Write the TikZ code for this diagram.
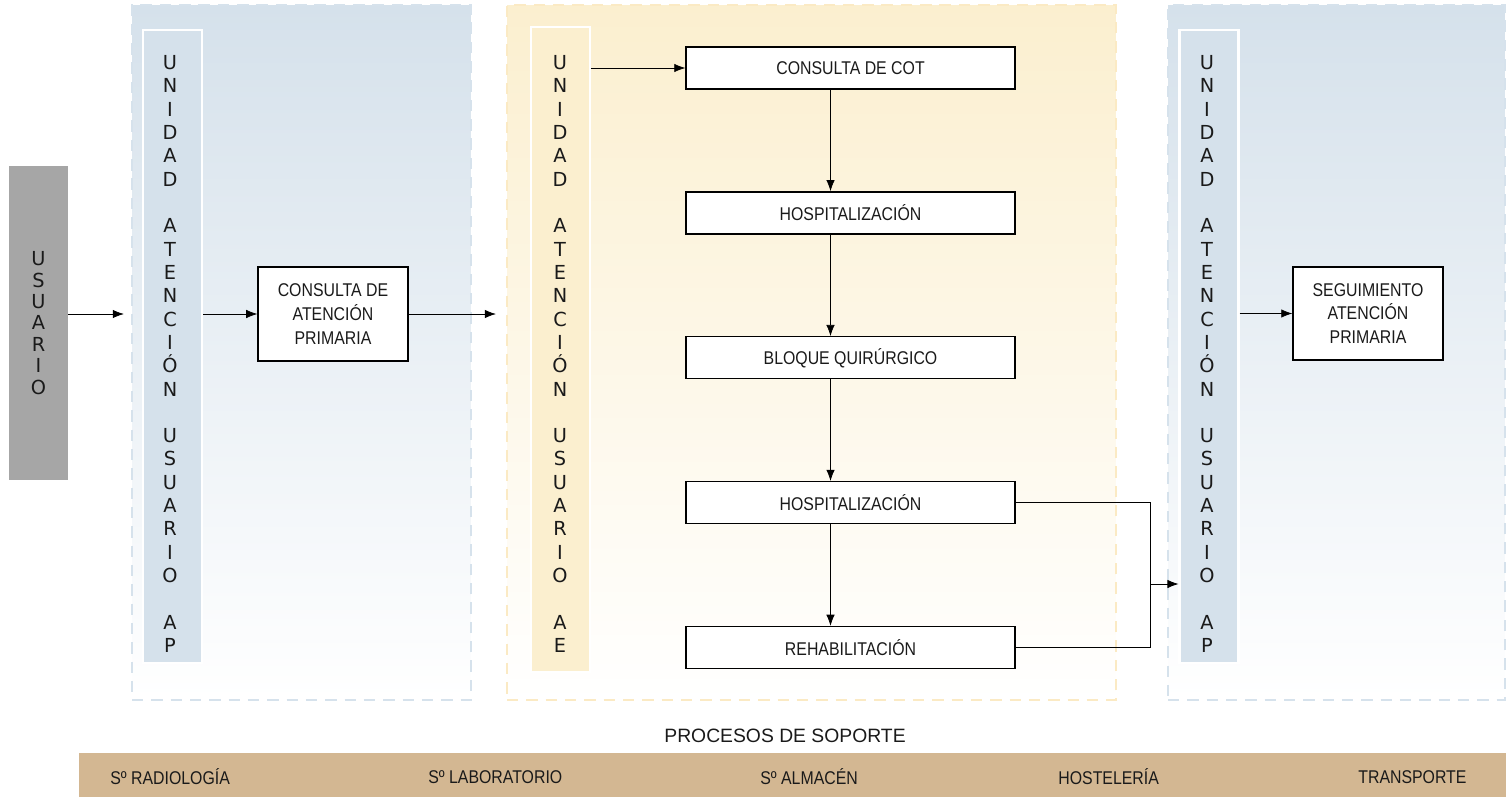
\documentclass[tikz,border=0pt]{standalone}
\usepackage{fontspec}
\usepackage{tikz}
\usetikzlibrary{positioning,arrows.meta}

\newfontfamily\narrowfont[FakeStretch=0.86]{Liberation Sans}
\newfontfamily\plainfont{Liberation Sans}
\newfontfamily\stripfont{DejaVu Sans}

\definecolor{apblue}{HTML}{D5E1EB}
\definecolor{apborder}{HTML}{D6E2EC}
\definecolor{aeyellow}{HTML}{FBEFCF}
\definecolor{aeborder}{HTML}{FBEAC4}
\definecolor{usergray}{HTML}{A6A6A6}
\definecolor{barbrown}{HTML}{D3B792}
\definecolor{inkdark}{HTML}{1A1A1A}

\begin{document}
\begin{tikzpicture}[
    x=0.02cm, y=-0.02cm,
    >={Latex[length=6.3pt,width=4.8pt]},
    every node/.style={text=inkdark},
    panel/.style={minimum width=#1, minimum height=13.9cm, dash pattern=on 6.5pt off 4.5pt, line width=1.3pt},
    panelap/.style={panel=#1, draw=apborder, top color=apblue, bottom color=white},
    panelae/.style={panel=#1, draw=aeborder, top color=aeyellow, bottom color=white},
    stripbox/.style={draw=white, line width=1.2pt, minimum width=1.18cm, minimum height=#1, inner sep=0pt},
    vtext/.style={align=center, font=\stripfont\fontsize{11}{13.27}\selectfont},
    box/.style={draw, thick, fill=white, align=center, inner sep=2pt, font=\narrowfont\fontsize{10.5}{13.5}\selectfont},
    flow/.style={box, minimum width=6.58cm, minimum height=0.84cm},
    bartext/.style={anchor=west, inner sep=0pt, font=\narrowfont\fontsize{10.5}{12}\selectfont}
]
\useasboundingbox (0,0) rectangle (1506,797);

% Panels
\node[panelap=6.78cm] (apL) at (301.5,352.5) {};
\node[panelae=12.18cm] (apM) at (811.5,352.5) {};
\node[panelap=6.74cm] (apR) at (1336.5,352.5) {};

% Strips
\node[stripbox=12.66cm, fill=apblue] (stripL) at (172.5,346.5) {};
\node[stripbox=12.9cm, fill=aeyellow] (stripM) at (560.5,349.5) {};
\node[stripbox=12.66cm, fill=apblue] (stripR) at (1209,346.5) {};

\node[vtext] (txtL) at (170,354) {U\\N\\I\\D\\A\\D\\[13.27pt]A\\T\\E\\N\\C\\I\\Ó\\N\\[13.27pt]U\\S\\U\\A\\R\\I\\O\\[13.27pt]A\\P};
\node[vtext] (txtM) at (560,354) {U\\N\\I\\D\\A\\D\\[13.27pt]A\\T\\E\\N\\C\\I\\Ó\\N\\[13.27pt]U\\S\\U\\A\\R\\I\\O\\[13.27pt]A\\E};
\node[vtext] (txtR) at (1207,354) {U\\N\\I\\D\\A\\D\\[13.27pt]A\\T\\E\\N\\C\\I\\Ó\\N\\[13.27pt]U\\S\\U\\A\\R\\I\\O\\[13.27pt]A\\P};

% Usuario
\node[fill=usergray, minimum width=1.18cm, minimum height=6.28cm, inner sep=0pt, align=center,
    font=\stripfont\fontsize{11}{12.2}\selectfont] (usuario) at (38.5,323) {U\\S\\U\\A\\R\\I\\O};

% Boxes
\node[box, minimum width=3cm, minimum height=1.88cm] (cpa) at (333,314) {CONSULTA DE\\ATENCIÓN\\PRIMARIA};
\node[box, minimum width=3cm, minimum height=1.86cm] (seg) at (1368,313.5) {SEGUIMIENTO\\ATENCIÓN\\PRIMARIA};

\node[flow] (cot) at (850.5,68) {CONSULTA DE COT};
\node[flow, below=2.03cm of cot] (hosp1) {HOSPITALIZACIÓN};
\node[flow, below=2.03cm of hosp1] (bloque) {BLOQUE QUIRÚRGICO};
\node[flow, below=2.03cm of bloque] (hosp2) {HOSPITALIZACIÓN};
\node[flow, below=2.03cm of hosp2] (rehab) {REHABILITACIÓN};

% Arrows
\draw[->, shorten >=0.14cm] (usuario.east |- cpa) -- (apL.west |- cpa);
\draw[->] (stripL.east |- cpa) -- (cpa.west);
\draw[->, shorten >=0.2cm] (cpa.east) -- (apM.west |- cpa);
\draw[->] (stripM.east |- cot.west) -- (cot.west);
\draw[->] ([xshift=-0.4cm]cot.south) -- ([xshift=-0.4cm]hosp1.north);
\draw[->] ([xshift=-0.4cm]hosp1.south) -- ([xshift=-0.4cm]bloque.north);
\draw[->] ([xshift=-0.4cm]bloque.south) -- ([xshift=-0.4cm]hosp2.north);
\draw[->] ([xshift=-0.4cm]hosp2.south) -- ([xshift=-0.4cm]rehab.north);

\coordinate (merge) at (1150,584);
\draw (hosp2.east) -| (merge);
\draw (rehab.east) -| (merge);
\draw[->] (merge) -- (stripR.west |- merge);
\draw[->] (stripR.east |- seg) -- (seg.west);

% Procesos de soporte
\node[font=\plainfont\fontsize{11}{13}\selectfont] (titulo) at (785,736) {PROCESOS DE SOPORTE};
\node[fill=barbrown, minimum width=28.54cm, minimum height=0.88cm, inner sep=0pt] (barra) at (792.5,775) {};
\node[bartext] (radio) at (110,777) {Sº RADIOLOGÍA};
\node[bartext] (labo) at (428,777) {Sº LABORATORIO};
\node[bartext] (almacen) at (760,777) {Sº ALMACÉN};
\node[bartext] (hostel) at (1058,777) {HOSTELERÍA};
\node[bartext] (transp) at (1358,777) {TRANSPORTE};

\end{tikzpicture}
\end{document}
